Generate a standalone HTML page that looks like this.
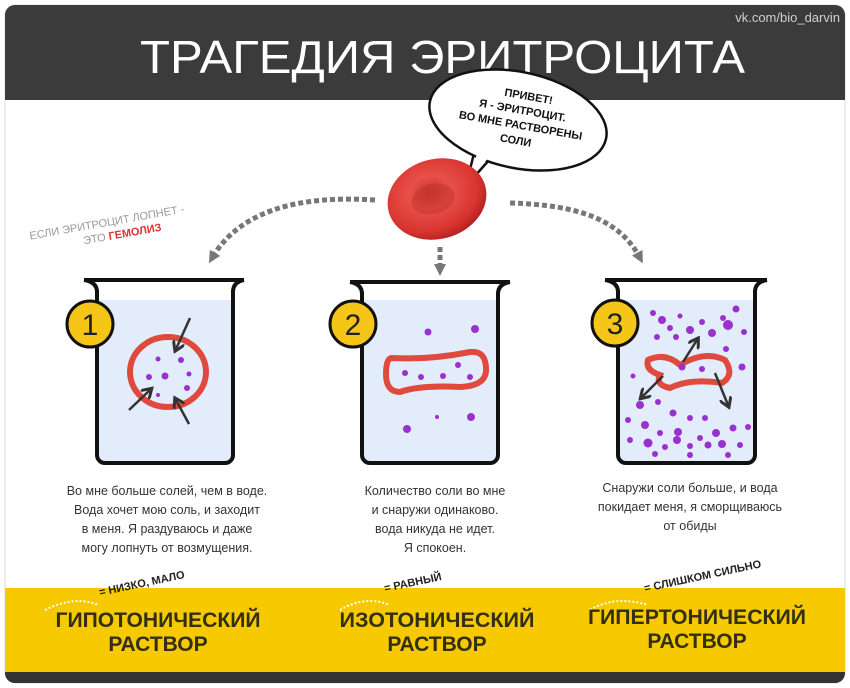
<!DOCTYPE html>
<html><head><meta charset="utf-8"><style>
html,body{margin:0;padding:0;background:#fff;}
svg{display:block}
.h{font-family:"Liberation Sans","DejaVu Sans",sans-serif;}
</style></head><body>
<svg width="850" height="688" viewBox="0 0 850 688" xmlns="http://www.w3.org/2000/svg">
<defs>
<radialGradient id="rbc" cx="45%" cy="40%" r="60%">
<stop offset="0" stop-color="#c8302f"/><stop offset="0.35" stop-color="#e8504a"/><stop offset="0.8" stop-color="#d8352f"/><stop offset="1" stop-color="#b72222"/>
</radialGradient>
<marker id="ah" markerWidth="12" markerHeight="12" refX="6" refY="6" orient="auto" markerUnits="userSpaceOnUse">
<path d="M0,0 L12,6 L0,12 Z" fill="#777"/></marker>
<marker id="ak" markerWidth="5" markerHeight="5" refX="3" refY="2.5" orient="auto" markerUnits="strokeWidth">
<path d="M0,0 L4,2.5 L0,5" fill="none" stroke="#333" stroke-width="1.2"/></marker>
</defs>
<rect x="0" y="0" width="850" height="688" fill="#fff"/>
<rect x="5" y="5" width="840" height="678" rx="10" fill="#fff" stroke="#ddd"/>
<path d="M5,15 a10,10 0 0 1 10,-10 H835 a10,10 0 0 1 10,10 V100 H5 Z" fill="#3b3b3b"/>
<text x="840" y="22" text-anchor="end" class="h" font-size="13" fill="#cfcfcf">vk.com/bio_darvin</text>
<text x="140" y="73" textLength="605" lengthAdjust="spacingAndGlyphs" class="h" font-size="46" fill="#fff">ТРАГЕДИЯ ЭРИТРОЦИТА</text>
<!-- yellow band -->
<rect x="5" y="588" width="840" height="84" fill="#f7c900"/>
<path d="M5,672 H845 V673 a10,10 0 0 1 -10,10 H15 a10,10 0 0 1 -10,-10 Z" fill="#333"/>
<!-- speech bubble -->
<path d="M476,145 L466,186 L498,150" fill="#fff" stroke="#111" stroke-width="2.5" stroke-linejoin="round"/>
<ellipse cx="518" cy="120" rx="90" ry="48" fill="#fff" stroke="#111" stroke-width="2.5" transform="rotate(12 518 120)"/>
<path d="M478,150 L470,178 L494,152 Z" fill="#fff"/>
<g class="h" font-size="11" fill="#111" font-weight="bold" text-anchor="middle">
<text x="528" y="100" transform="rotate(10 528 100)">ПРИВЕТ!</text>
<text x="522" y="114" transform="rotate(10 522 114)">Я - ЭРИТРОЦИТ.</text>
<text x="520" y="129" transform="rotate(10 520 129)">ВО МНЕ РАСТВОРЕНЫ</text>
<text x="515" y="144" transform="rotate(10 515 144)">СОЛИ</text>
</g>
<!-- RBC -->
<ellipse cx="437" cy="199" rx="50" ry="40" fill="url(#rbc)" transform="rotate(-15 437 199)"/>
<ellipse cx="433" cy="199" rx="22" ry="15" fill="#c2312c" opacity="0.5" transform="rotate(-15 433 199)"/>
<!-- dashed arrows -->
<g fill="none" stroke="#777" stroke-width="5" stroke-dasharray="5,3">
<path d="M375,200 C300,195 240,210 212,258" marker-end="url(#ah)"/>
<path d="M440,247 L440,270" marker-end="url(#ah)"/>
<path d="M510,203 C580,205 620,220 640,258" marker-end="url(#ah)"/>
</g>
<g class="h" font-size="11" fill="#999" transform="rotate(-10 130 218)">
<text x="28" y="222">ЕСЛИ ЭРИТРОЦИТ ЛОПНЕТ -</text>
<text x="80" y="236">ЭТО <tspan fill="#d33" font-weight="bold">ГЕМОЛИЗ</tspan></text>
</g>
<!-- beakers -->
<g stroke="#111" stroke-width="4" stroke-linejoin="round">
<path d="M97,300 V455 a8,8 0 0 0 8,8 H225 a8,8 0 0 0 8,-8 V300 Z" fill="#e3ecfb" stroke="none"/>
<path d="M84,280 H244 M97,290 V455 a8,8 0 0 0 8,8 H225 a8,8 0 0 0 8,-8 V290 M84,280 Q97,282 97,292 M244,280 Q233,282 233,292" fill="none"/>
<path d="M362,300 V455 a8,8 0 0 0 8,8 H490 a8,8 0 0 0 8,-8 V300 Z" fill="#e3ecfb" stroke="none"/>
<path d="M350,282 H510 M362,292 V455 a8,8 0 0 0 8,8 H490 a8,8 0 0 0 8,-8 V292 M350,282 Q362,284 362,294 M510,282 Q498,284 498,294" fill="none"/>
<path d="M618,300 V455 a8,8 0 0 0 8,8 H747 a8,8 0 0 0 8,-8 V300 Z" fill="#e3ecfb" stroke="none"/>
<path d="M605,280 H767 M618,290 V455 a8,8 0 0 0 8,8 H747 a8,8 0 0 0 8,-8 V290 M605,280 Q618,282 618,292 M767,280 Q755,282 755,292" fill="none"/>
</g>
<!-- number circles -->
<g stroke="#111" stroke-width="3" fill="#f5c518">
<circle cx="90" cy="324" r="23"/><circle cx="353" cy="324" r="23"/><circle cx="615" cy="323" r="23"/>
</g>
<g class="h" font-size="30" fill="#222" text-anchor="middle">
<text x="90" y="335">1</text><text x="353" y="335">2</text><text x="615" y="334">3</text>
</g>
<!-- cell 1 -->
<ellipse cx="168" cy="372" rx="38" ry="35" fill="none" stroke="#e04a3e" stroke-width="6"/>
<g fill="#9b30d0"><circle cx="158" cy="359" r="2.5"/><circle cx="181" cy="360" r="3"/><circle cx="149" cy="377" r="3"/><circle cx="165" cy="376" r="3.5"/><circle cx="189" cy="374" r="2.5"/><circle cx="187" cy="388" r="3"/><circle cx="158" cy="395" r="2"/></g>
<g stroke="#333" stroke-width="2.5" fill="none"><path d="M190,318 L176,349" marker-end="url(#ak)"/><path d="M129,410 L150,390" marker-end="url(#ak)"/><path d="M189,424 L176,400" marker-end="url(#ak)"/></g>
<!-- cell 2 -->
<path d="M392,358 Q430,360 470,352 Q487,350 486,372 Q484,386 460,387 Q420,385 400,392 Q386,392 386,374 Q386,358 392,358 Z" fill="none" stroke="#e04a3e" stroke-width="6"/>
<g fill="#9b30d0"><circle cx="428" cy="332" r="3.5"/><circle cx="475" cy="329" r="4"/><circle cx="405" cy="373" r="3"/><circle cx="421" cy="377" r="3"/><circle cx="443" cy="376" r="3"/><circle cx="458" cy="365" r="3"/><circle cx="470" cy="377" r="3"/><circle cx="437" cy="417" r="2"/><circle cx="471" cy="417" r="4"/><circle cx="407" cy="429" r="4"/></g>
<!-- cell 3 -->
<path d="M648,360 Q665,352 680,365 Q705,350 725,360 Q735,375 722,383 Q690,378 670,388 Q655,385 660,375 Q645,370 648,360 Z" fill="none" stroke="#e04a3e" stroke-width="6"/>
<g fill="#9b30d0">
<circle cx="653" cy="313" r="3"/><circle cx="662" cy="320" r="4"/><circle cx="670" cy="328" r="3"/><circle cx="680" cy="316" r="2.5"/><circle cx="690" cy="330" r="4"/><circle cx="702" cy="322" r="3"/><circle cx="712" cy="333" r="4"/><circle cx="723" cy="318" r="3"/><circle cx="728" cy="325" r="5"/><circle cx="736" cy="309" r="3.5"/><circle cx="744" cy="332" r="3"/><circle cx="657" cy="337" r="3"/><circle cx="676" cy="337" r="3"/><circle cx="726" cy="349" r="3"/><circle cx="742" cy="367" r="3.5"/><circle cx="633" cy="376" r="2.5"/><circle cx="640" cy="405" r="4"/><circle cx="658" cy="402" r="3"/><circle cx="673" cy="413" r="3.5"/><circle cx="690" cy="418" r="3"/><circle cx="705" cy="418" r="3"/><circle cx="628" cy="420" r="3"/><circle cx="645" cy="425" r="4"/><circle cx="660" cy="433" r="3"/><circle cx="678" cy="432" r="4"/><circle cx="700" cy="438" r="3"/><circle cx="716" cy="433" r="4"/><circle cx="733" cy="428" r="3.5"/><circle cx="748" cy="427" r="3"/><circle cx="630" cy="440" r="3"/><circle cx="648" cy="443" r="4.5"/><circle cx="665" cy="447" r="3"/><circle cx="677" cy="440" r="4"/><circle cx="690" cy="446" r="3"/><circle cx="708" cy="445" r="3.5"/><circle cx="722" cy="444" r="4"/><circle cx="740" cy="445" r="3"/><circle cx="655" cy="454" r="3"/><circle cx="690" cy="455" r="3"/><circle cx="728" cy="455" r="3"/><circle cx="682" cy="367" r="3.5"/><circle cx="702" cy="369" r="3"/></g>
<g stroke="#333" stroke-width="2.5" fill="none"><path d="M683,362 L697,340" marker-end="url(#ak)"/><path d="M663,376 L642,397" marker-end="url(#ak)"/><path d="M715,373 L728,405" marker-end="url(#ak)"/></g>
<!-- descriptions -->
<g class="h" font-size="12.5" fill="#333" text-anchor="middle">
<text x="167" y="495">Во мне больше солей, чем в воде.</text>
<text x="167" y="514">Вода хочет мою соль, и заходит</text>
<text x="167" y="533">в меня. Я раздуваюсь и даже</text>
<text x="167" y="552">могу лопнуть от возмущения.</text>
<text x="435" y="495">Количество соли во мне</text>
<text x="435" y="514">и снаружи одинаково.</text>
<text x="435" y="533">вода никуда не идет.</text>
<text x="435" y="552">Я спокоен.</text>
<text x="690" y="492">Снаружи соли больше, и вода</text>
<text x="690" y="511">покидает меня, я сморщиваюсь</text>
<text x="690" y="530">от обиды</text>
</g>
<!-- bottom labels -->
<g class="h" font-size="11" fill="#222" font-weight="bold">
<text x="100" y="596" transform="rotate(-12 100 596)">= НИЗКО, МАЛО</text>
<text x="385" y="592" transform="rotate(-12 385 592)">= РАВНЫЙ</text>
<text x="645" y="592" transform="rotate(-12 645 592)">= СЛИШКОМ СИЛЬНО</text>
</g>
<g fill="none" stroke="#fff" stroke-width="2" stroke-dasharray="2,2">
<path d="M45,610 Q75,595 98,605"/><path d="M340,610 Q365,595 390,605"/><path d="M590,610 Q615,595 648,605"/>
</g>
<g class="h" font-size="21" font-weight="bold" fill="#33300f" text-anchor="middle">
<text x="158" y="627" textLength="205" lengthAdjust="spacingAndGlyphs">ГИПОТОНИЧЕСКИЙ</text><text x="158" y="651">РАСТВОР</text>
<text x="437" y="627" textLength="195" lengthAdjust="spacingAndGlyphs">ИЗОТОНИЧЕСКИЙ</text><text x="437" y="651">РАСТВОР</text>
<text x="697" y="624" textLength="218" lengthAdjust="spacingAndGlyphs">ГИПЕРТОНИЧЕСКИЙ</text><text x="697" y="648">РАСТВОР</text>
</g>
</svg>
</body></html>
